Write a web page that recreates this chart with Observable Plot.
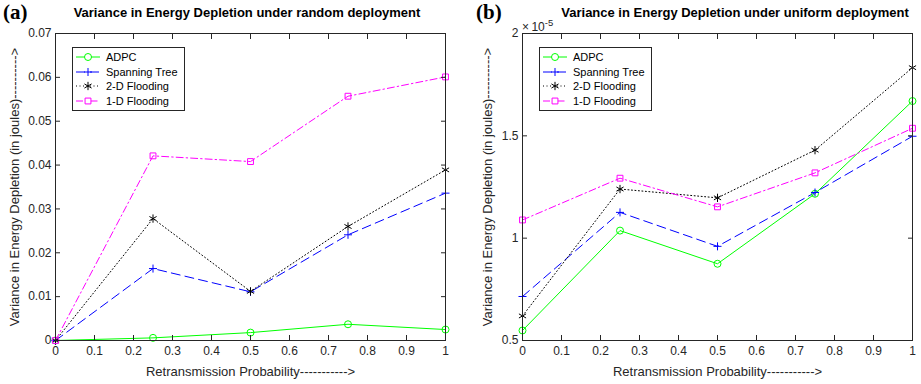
<!DOCTYPE html>
<html>
<head>
<meta charset="utf-8">
<script src="https://cdn.jsdelivr.net/npm/d3@7"></script>
<script src="https://cdn.jsdelivr.net/npm/@observablehq/plot@0.6"></script>
<style>
  body { margin: 0; background: #fff; }
  #wrap { position: relative; width: 921px; height: 384px; overflow: hidden; font-family: "Liberation Sans", Arial, sans-serif; color: #262626; }
  .chart { position: absolute; top: 0; }
  .panel { position: absolute; font-family: "Liberation Serif", "Times New Roman", serif; font-weight: bold; font-size: 21px; color: #000; top: 0px; }
  .title { position: absolute; font-weight: bold; font-size: 13px; color: #000; top: 5px; white-space: nowrap; transform: translateX(-50%); }
  .legend { position: absolute; background: #fff; border: 1px solid #262626; font-size: 11px; padding: 2px 6px 2px 3px; }
  .legend .row { display: flex; align-items: center; height: 14.6px; white-space: nowrap; color: #000; }
  .legend svg { margin-right: 6px; }
  .expo { position: absolute; font-size: 12px; color: #262626; white-space: nowrap; }
</style>
</head>
<body>
<div id="wrap"></div>
<script>
// ---- data ----
const retxProb = [0, 0.25, 0.5, 0.75, 1];
const seriesNames = ["ADPC", "Spanning Tree", "2-D Flooding", "1-D Flooding"];

// (a) random deployment (joules)
const randomADPC     = [0, 0.0006, 0.0018, 0.0037, 0.0025];
const randomSpanning = [0, 0.0164, 0.0111, 0.0241, 0.0336];
const random2D       = [0, 0.0278, 0.0112, 0.0260, 0.0389];
const random1D       = [0, 0.0421, 0.0408, 0.0557, 0.0601];

// (b) uniform deployment (joules)
const uniformADPC     = [0.549e-5, 1.037e-5, 0.875e-5, 1.217e-5, 1.670e-5];
const uniformSpanning = [0.715e-5, 1.126e-5, 0.960e-5, 1.223e-5, 1.498e-5];
const uniform2D       = [0.620e-5, 1.240e-5, 1.197e-5, 1.430e-5, 1.833e-5];
const uniform1D       = [1.089e-5, 1.293e-5, 1.153e-5, 1.319e-5, 1.537e-5];

const xTicks = [0, 0.1, 0.2, 0.3, 0.4, 0.5, 0.6, 0.7, 0.8, 0.9, 1];
const yTicksA = [0, 0.01, 0.02, 0.03, 0.04, 0.05, 0.06, 0.07];
const yTicksB = [0.5e-5, 1e-5, 1.5e-5, 2e-5];

const xLabel = "Retransmission Probability----------->";
const yLabel = "Variance in Energy Depletion (in joules)---------->";

// ---- styles per series ----
const styles = {
  "ADPC":          {color: "#00ff00", dash: null,        symbol: "circle",   r: 3.5},
  "Spanning Tree": {color: "#0000ff", dash: "9,5",       symbol: "plus",     r: 2.7},
  "2-D Flooding":  {color: "#000000", dash: "1,2.5",     symbol: "asterisk", r: 3.9},
  "1-D Flooding":  {color: "#ff00ff", dash: "7,3,1.5,3", symbol: "square",   r: 3.3}
};

function toRows(arrs) {
  const rows = [];
  seriesNames.forEach((name, i) => {
    arrs[i].forEach((v, j) => rows.push({series: name, x: retxProb[j], y: v}));
  });
  return rows;
}

function makeChart({rows, width, marginLeft, marginRight, yDomain, yTicks, yFormat, labelOffset}) {
  const marks = [];
  for (const name of seriesNames) {
    const s = styles[name];
    const d = rows.filter(r => r.series === name);
    marks.push(Plot.line(d, {x: "x", y: "y", stroke: s.color, strokeWidth: 1, strokeDasharray: s.dash}));
  }
  for (const name of seriesNames) {
    const s = styles[name];
    const d = rows.filter(r => r.series === name);
    marks.push(Plot.dot(d, {x: "x", y: "y", symbol: () => s.symbol, stroke: s.color, fill: "none", r: s.r, strokeWidth: 1}));
  }
  marks.push(
    Plot.frame({stroke: "#262626", strokeWidth: 1}),
    // tick labels
    Plot.axisX({ticks: xTicks, tickSize: 0, tickPadding: 6, fontSize: 12, color: "#262626",
      tickFormat: d => String(d), label: null}),
    Plot.axisY({ticks: yTicks, tickSize: 0, tickPadding: 4, fontSize: 12, color: "#262626",
      tickFormat: yFormat, label: null}),
    // axis titles
    Plot.axisX({ticks: [], tickSize: 0, fontSize: 13, color: "#262626",
      label: xLabel, labelAnchor: "center", labelArrow: "none", labelOffset: 35}),
    Plot.axisY({ticks: [], tickSize: 0, fontSize: 13, color: "#262626",
      label: yLabel, labelAnchor: "center", labelArrow: "none", labelOffset}),
    // inward ticks
    Plot.axisX({ticks: xTicks, anchor: "bottom", tickSize: -5, fill: "none", stroke: "#262626", label: null}),
    Plot.axisX({ticks: xTicks, anchor: "top", tickSize: -5, fill: "none", stroke: "#262626", label: null}),
    Plot.axisY({ticks: yTicks, anchor: "left", tickSize: -5, fill: "none", stroke: "#262626", label: null}),
    Plot.axisY({ticks: yTicks, anchor: "right", tickSize: -5, fill: "none", stroke: "#262626", label: null})
  );
  return Plot.plot({
    width, height: 384,
    marginLeft, marginRight, marginTop: 33, marginBottom: 44,
    style: {fontFamily: "'Liberation Sans', Arial, sans-serif", fontSize: "12px", color: "#262626", background: "transparent"},
    x: {domain: [0, 1]},
    y: {domain: yDomain},
    marks
  });
}

const wrap = document.getElementById("wrap");

const chartA = makeChart({
  rows: toRows([randomADPC, randomSpanning, random2D, random1D]),
  width: 460, marginLeft: 55, marginRight: 15,
  yDomain: [0, 0.07], yTicks: yTicksA, yFormat: d => String(+d.toFixed(2)), labelOffset: 46
});
chartA.classList.add("chart");
chartA.style.left = "0px";
wrap.appendChild(chartA);

const chartB = makeChart({
  rows: toRows([uniformADPC, uniformSpanning, uniform2D, uniform1D]),
  width: 461, marginLeft: 62, marginRight: 9,
  yDomain: [0.5e-5, 2e-5], yTicks: yTicksB, yFormat: d => String(+(d * 1e5).toFixed(2)), labelOffset: 40
});
chartB.classList.add("chart");
chartB.style.left = "460px";
wrap.appendChild(chartB);

// ---- text overlays ----
function addDiv(cls, html, styleObj) {
  const el = document.createElement("div");
  el.className = cls;
  el.innerHTML = html;
  Object.assign(el.style, styleObj);
  wrap.appendChild(el);
  return el;
}
addDiv("panel", "(a)", {left: "3px"});
addDiv("panel", "(b)", {left: "476px"});
addDiv("title", "Variance in Energy Depletion under random deployment", {left: "247px"});
addDiv("title", "Variance in Energy Depletion under uniform deployment", {left: "735px"});
addDiv("expo", "&times;&thinsp;10<sup style='font-size:9.5px;vertical-align:5px'>-5</sup>", {left: "522px", top: "17px"});

function addLegend(left) {
  const box = addDiv("legend", "", {left: left + "px", top: "47px"});
  for (const name of seriesNames) {
    const s = styles[name];
    const row = document.createElement("div");
    row.className = "row";
    const svg = d3.create("svg").attr("width", 24).attr("height", 12);
    svg.append("line").attr("x1", 0).attr("x2", 24).attr("y1", 6).attr("y2", 6)
      .attr("stroke", s.color).attr("stroke-width", 1).attr("stroke-dasharray", s.dash);
    const sym = {circle: d3.symbolCircle, plus: d3.symbolPlus, asterisk: d3.symbolAsterisk, square: d3.symbolSquare}[s.symbol];
    svg.append("path").attr("transform", "translate(12,6)")
      .attr("d", d3.symbol(sym, Math.PI * s.r * s.r)())
      .attr("fill", s.symbol === "square" || s.symbol === "circle" ? "#fff" : "none")
      .attr("stroke", s.color).attr("stroke-width", 1);
    row.appendChild(svg.node());
    const t = document.createElement("span");
    t.textContent = name;
    row.appendChild(t);
    box.appendChild(row);
  }
}
addLegend(72);
addLegend(539);
</script>
</body>
</html>
